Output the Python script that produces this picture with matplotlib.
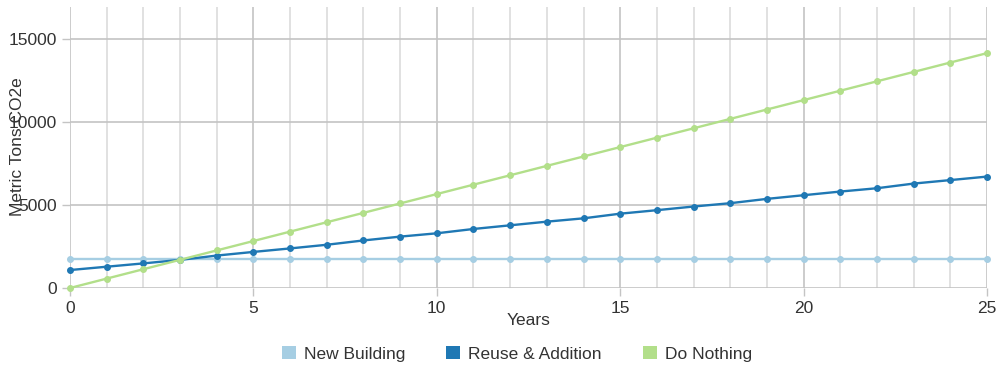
import matplotlib
matplotlib.use("Agg")
import matplotlib.pyplot as plt
from matplotlib.patches import Patch
from matplotlib.ticker import MultipleLocator

# Data
years = list(range(26))
new_building = [1750] * 26
reuse_addition = [1080, 1280, 1480, 1690, 1950, 2170, 2380, 2600, 2860, 3090,
                  3290, 3550, 3770, 3990, 4190, 4470, 4680, 4900, 5100, 5360,
                  5580, 5800, 6000, 6280, 6490, 6700]
do_nothing = [0, 565, 1130, 1695, 2260, 2825, 3390, 3955, 4520, 5085,
              5650, 6215, 6780, 7345, 7910, 8475, 9040, 9605, 10170, 10735,
              11300, 11865, 12430, 12995, 13560, 14125]

series_names = ["New Building", "Reuse & Addition", "Do Nothing"]
series_colors = ["#a6cee3", "#1f78b4", "#b2df8a"]

plt.rcParams["font.family"] = ["Liberation Sans", "DejaVu Sans"]

fig = plt.figure(figsize=(10.01, 3.69), dpi=100)
ax = fig.add_axes([70 / 1001, 1 - 288 / 369, 917 / 1001, 281 / 369])

for vals, name, col in zip([new_building, reuse_addition, do_nothing],
                           series_names, series_colors):
    ax.plot(years, vals, color=col, linewidth=1.7, marker="o",
            markersize=4, label=name, zorder=3, clip_on=False)

ax.set_xlim(0, 25)
ax.set_ylim(0, 16900)

# Grid
ax.xaxis.set_major_locator(MultipleLocator(5))
ax.xaxis.set_minor_locator(MultipleLocator(1))
ax.yaxis.set_major_locator(MultipleLocator(5000))
ax.grid(which="major", axis="both", color="#c4c4c4", linewidth=1.2)
ax.grid(which="minor", axis="x", color="#dcdcdc", linewidth=1.2)
ax.set_axisbelow(True)

for s in ax.spines.values():
    s.set_visible(False)

ax.tick_params(axis="both", which="major", labelsize=12.5, colors="#c4c4c4",
               labelcolor="#333333", length=6, width=1)
ax.tick_params(axis="x", which="minor", length=0)

ax.set_xlabel("Years", fontsize=12.5, color="#333333", labelpad=-2)
# the axis title sits over the tick labels, as in the original
fig.text(18 / 1001, 1 - 147 / 369, "Metric Tons CO2e", rotation=90,
         ha="center", va="center", fontsize=12.5, color="#333333")

handles = [Patch(facecolor=c, edgecolor="none", label=n)
           for n, c in zip(series_names, series_colors)]
fig.legend(handles=handles, loc="center", ncol=3, frameon=False,
           bbox_to_anchor=(517 / 1001, 1 - 354 / 369), fontsize=12.5,
           handlelength=0.8, handleheight=0.8, handletextpad=0.46,
           columnspacing=2.36, labelcolor="#333333")

fig.savefig("out.png", dpi=100)
